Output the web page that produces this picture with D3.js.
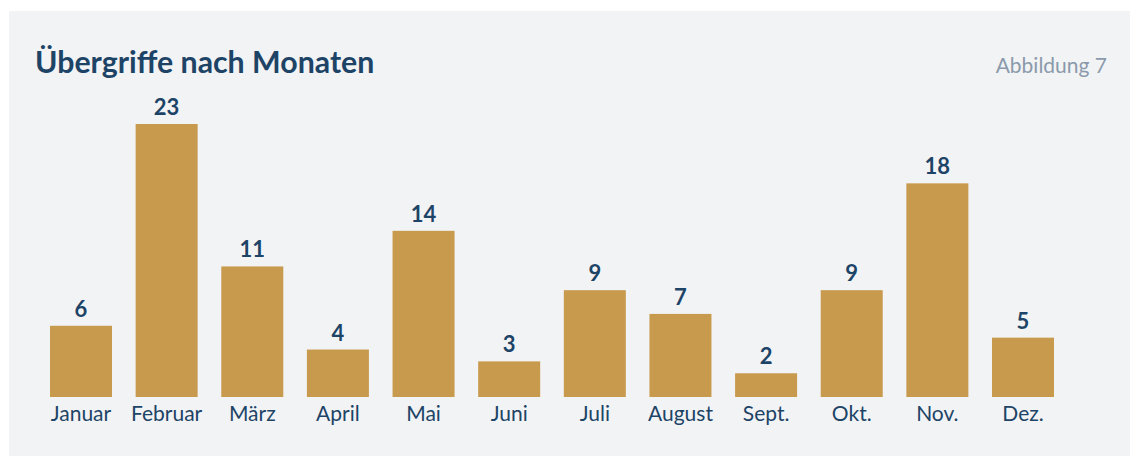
<!DOCTYPE html>
<html>
<head>
<meta charset="utf-8">
<script src="https://cdn.jsdelivr.net/npm/d3@7"></script>
<style>
  body { margin: 0; background: #fff; }
  svg { display: block; font-family: "Source Sans Pro", Lato, "Noto Sans", sans-serif; }
</style>
</head>
<body>
<svg id="chart" width="1130" height="456"></svg>
<script>
const months = ["Januar", "Februar", "März", "April", "Mai", "Juni", "Juli", "August", "Sept.", "Okt.", "Nov.", "Dez."];
const counts = [6, 23, 11, 4, 14, 3, 9, 7, 2, 9, 18, 5];

const title = "Übergriffe nach Monaten";
const figLabel = "Abbildung 7";

const svg = d3.select("#chart");

// grey panel
svg.append("rect")
    .attr("x", 9).attr("y", 11)
    .attr("width", 1121).attr("height", 445)
    .attr("fill", "#f2f3f5");

svg.append("text")
    .attr("x", 35).attr("y", 73)
    .attr("fill", "#1d4466")
    .attr("font-size", 30.3)
    .attr("font-weight", 700)
    .text(title);

svg.append("text")
    .attr("x", 1107).attr("y", 73)
    .attr("text-anchor", "end")
    .attr("fill", "#8a9aab")
    .attr("font-size", 21)
    .text(figLabel);

const x = d3.scaleBand()
    .domain(months)
    .range([50, 1054])
    .paddingInner(0.276)
    .paddingOuter(0);

const y = d3.scaleLinear()
    .domain([0, 23])
    .range([397, 124]);

const bars = svg.append("g");

bars.selectAll("rect")
    .data(counts)
    .join("rect")
    .attr("x", (d, i) => x(months[i]))
    .attr("y", d => y(d))
    .attr("width", x.bandwidth())
    .attr("height", d => y(0) - y(d))
    .attr("fill", "#c89a4e");

bars.selectAll("text.val")
    .data(counts)
    .join("text")
    .attr("class", "val")
    .attr("x", (d, i) => x(months[i]) + x.bandwidth() / 2)
    .attr("y", d => y(d) - 9)
    .attr("text-anchor", "middle")
    .attr("fill", "#1d4466")
    .attr("font-size", 22)
    .attr("font-weight", 700)
    .text(d => d);

// month labels via axis, no lines
const xAxis = svg.append("g")
    .attr("transform", "translate(0,397)")
    .call(d3.axisBottom(x).tickSize(0).tickPadding(9));

xAxis.select(".domain").remove();
xAxis.selectAll("text")
    .attr("font-size", 21)
    .attr("fill", "#1d4466");
xAxis.attr("font-family", null).attr("font-size", null);
</script>
</body>
</html>
